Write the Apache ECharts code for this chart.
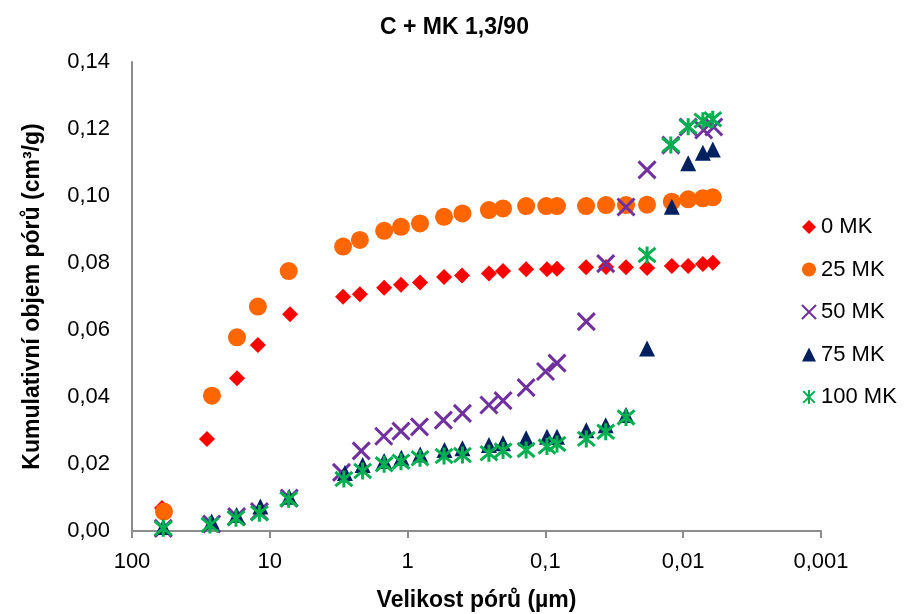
<!DOCTYPE html>
<html>
<head>
<meta charset="utf-8">
<script src="https://cdn.jsdelivr.net/npm/echarts@6/dist/echarts.min.js"></script>
<style>html,body{margin:0;padding:0;background:#fff}#c{width:906px;height:614px}</style>
</head>
<body>
<div id="c"></div>
<script>
// Pore size (µm) per series
const size0   = [60.6, 28.6, 17.3, 12.2, 7.13, 2.94, 2.22, 1.48, 1.117, 0.813, 0.544, 0.403, 0.257, 0.203, 0.138, 0.0974, 0.0824, 0.0507, 0.0363, 0.026, 0.0183, 0.0121, 0.0092, 0.0072, 0.0061];
const size25  = [58.6, 26.3, 17.3, 12.2, 7.29, 2.94, 2.22, 1.48, 1.117, 0.813, 0.544, 0.40, 0.257, 0.203, 0.138, 0.0985, 0.0824, 0.0507, 0.0363, 0.026, 0.0183, 0.0121, 0.0092, 0.0072, 0.0061];
const size50  = [59.3, 26.4, 17.4, 11.9, 7.23, 3.02, 2.17, 1.49, 1.117, 0.82, 0.55, 0.40, 0.257, 0.203, 0.138, 0.0998, 0.0824, 0.0505, 0.0365, 0.026, 0.0183, 0.0123, 0.0092, 0.0071, 0.0060];
const size75  = [59.3, 26.4, 17.4, 11.7, 7.23, 2.85, 2.12, 1.48, 1.11, 0.81, 0.54, 0.40, 0.257, 0.203, 0.138, 0.0974, 0.0824, 0.0505, 0.0365, 0.026, 0.0183, 0.0121, 0.0092, 0.0072, 0.0061];
const size100 = [59.3, 27.2, 17.6, 11.9, 7.3, 2.90, 2.12, 1.48, 1.117, 0.813, 0.544, 0.40, 0.257, 0.203, 0.138, 0.0974, 0.0824, 0.0505, 0.0365, 0.026, 0.0183, 0.0123, 0.0092, 0.0072, 0.0061];
// Cumulative pore volume (cm3/g)
const vol0   = [0.0069, 0.0275, 0.0456, 0.0555, 0.0647, 0.0699, 0.0707, 0.0726, 0.0735, 0.0742, 0.0758, 0.0763, 0.0769, 0.0776, 0.0781, 0.0781, 0.0783, 0.0787, 0.0788, 0.0787, 0.0785, 0.0791, 0.0791, 0.0797, 0.0801];
const vol25  = [0.0058, 0.0404, 0.0578, 0.0670, 0.0776, 0.0849, 0.0869, 0.0896, 0.0908, 0.0918, 0.0938, 0.0948, 0.0958, 0.0963, 0.0970, 0.0970, 0.0970, 0.0970, 0.0973, 0.0973, 0.0974, 0.0983, 0.0990, 0.0993, 0.0996];
const vol50  = [0.0008, 0.0021, 0.0043, 0.0058, 0.0098, 0.0175, 0.0239, 0.0283, 0.0298, 0.0311, 0.0331, 0.0351, 0.0376, 0.0389, 0.0428, 0.0476, 0.0501, 0.0625, 0.0798, 0.0967, 0.1078, 0.1152, 0.1206, 0.1197, 0.1206];
const vol75  = [0.0012, 0.0028, 0.0048, 0.0073, 0.0102, 0.0173, 0.0197, 0.0209, 0.0219, 0.0228, 0.0242, 0.0247, 0.0257, 0.0262, 0.0277, 0.0281, 0.0281, 0.0301, 0.0316, 0.0346, 0.0545, 0.0968, 0.1098, 0.1129, 0.1139];
const vol100 = [0.0008, 0.0018, 0.0038, 0.0053, 0.0095, 0.0155, 0.0179, 0.0199, 0.0207, 0.0217, 0.0224, 0.0227, 0.0232, 0.0240, 0.0242, 0.0252, 0.0260, 0.0275, 0.0296, 0.0339, 0.0824, 0.1152, 0.1207, 0.1225, 0.1229];
const seriesNames = ['0 MK', '25 MK', '50 MK', '75 MK', '100 MK'];
const yTicks = [0, 0.02, 0.04, 0.06, 0.08, 0.10, 0.12, 0.14];

const FONT = '"Liberation Sans", Arial, sans-serif';
const pair = (xs, ys) => xs.map((x, i) => [x, ys[i]]);
const sizes = [size0, size25, size50, size75, size100];
const vols = [vol0, vol25, vol50, vol75, vol100];
const styles = [
  {symbol: 'diamond', symbolSize: 16, itemStyle: {color: '#FF0000', opacity: 1}},
  {symbol: 'circle', symbolSize: 18, itemStyle: {color: '#FF6600', opacity: 1}},
  {symbol: 'path://M0,0L10,10M10,0L0,10', symbolSize: 17, itemStyle: {color: 'rgba(0,0,0,0)', borderColor: '#7030A0', borderWidth: 3, opacity: 1}},
  {symbol: 'triangle', symbolSize: 16, itemStyle: {color: '#002060', opacity: 1}},
  {symbol: 'path://M0,0L10,10M10,0L0,10M5,-1L5,11', symbolSize: 17, itemStyle: {color: 'rgba(0,0,0,0)', borderColor: '#00B050', borderWidth: 3, opacity: 1}}
];

const chart = echarts.init(document.getElementById('c'), null, {renderer: 'canvas'});
chart.setOption({
  animation: false,
  backgroundColor: '#fff',
  title: {
    text: 'C + MK 1,3/90', left: 375, top: 11,
    textStyle: {fontFamily: FONT, fontSize: 23, fontWeight: 'bold', color: '#000'}
  },
  legend: {
    orient: 'vertical', left: 796, top: 211, itemGap: 20.5,
    itemWidth: 14, itemHeight: 14,
    data: seriesNames,
    textStyle: {fontFamily: FONT, fontSize: 22, color: '#000', lineHeight: 22}
  },
  grid: {left: 132, right: 85, top: 62, bottom: 83, containLabel: false, outerBoundsMode: 'none'},
  xAxis: {
    type: 'log', logBase: 10, min: 0.001, max: 100, inverse: true,
    name: 'Velikost pórů (µm)', nameLocation: 'middle', nameGap: 58,
    nameTextStyle: {fontFamily: FONT, fontSize: 23, fontWeight: 'bold', color: '#000'},
    axisLine: {show: true, lineStyle: {color: '#8c8c8c', width: 2}},
    axisTick: {show: true, inside: false, length: 7, lineStyle: {color: '#8c8c8c', width: 2}},
    minorTick: {show: false},
    splitLine: {show: false},
    axisLabel: {
      fontFamily: FONT, fontSize: 22, color: '#000', margin: 20,
      formatter: v => {
        const e = Math.round(Math.log10(v));
        return e >= 0 ? String(Math.pow(10, e)) : '0,' + '0'.repeat(-e - 1) + '1';
      }
    }
  },
  yAxis: {
    type: 'value', min: 0, max: 0.14, interval: 0.02,
    name: 'Kumulativní objem pórů (cm³/g)', nameLocation: 'middle', nameGap: 88, nameRotate: 90,
    nameTextStyle: {fontFamily: FONT, fontSize: 23, fontWeight: 'bold', color: '#000'},
    axisLine: {show: true, lineStyle: {color: '#8c8c8c', width: 2}},
    axisTick: {show: false},
    splitLine: {show: false},
    axisLabel: {
      fontFamily: FONT, fontSize: 22, color: '#000', margin: 22,
      formatter: v => {
        const t = yTicks.find(t => Math.abs(t - v) < 1e-9);
        return (t !== undefined ? t : v).toFixed(2).replace('.', ',');
      }
    }
  },
  series: seriesNames.map((n, i) => Object.assign({
    name: n, type: 'scatter', data: pair(sizes[i], vols[i]), z: 2 + i
  }, styles[i]))
});
</script>
</body>
</html>
